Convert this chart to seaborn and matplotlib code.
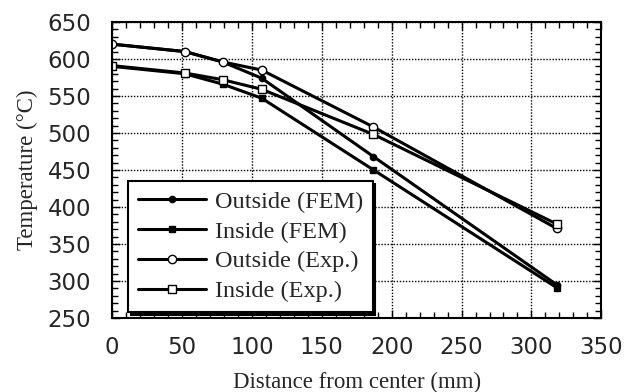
import matplotlib
matplotlib.use("Agg")
import matplotlib.pyplot as plt
from matplotlib.ticker import MultipleLocator
import numpy as np
import pandas as pd
import seaborn as sns

# Measurement positions (mm from center)
distance = [0, 52, 79, 107, 187, 318]

# Temperatures (deg C)
outside_fem = [620, 610, 596, 574, 468, 295]
inside_fem = [590, 580, 566, 547, 450, 291]
outside_exp = [620, 610, 596, 585, 508, 371]
inside_exp = [591, 581, 572, 559, 498, 377]

series_names = ["Outside (FEM)", "Inside (FEM)", "Outside (Exp.)", "Inside (Exp.)"]
series_values = [outside_fem, inside_fem, outside_exp, inside_exp]

x_ticks = [0, 50, 100, 150, 200, 250, 300, 350]
y_ticks = [250, 300, 350, 400, 450, 500, 550, 600, 650]

df = pd.DataFrame({
    "distance": np.tile(distance, len(series_names)),
    "temperature": np.concatenate(series_values),
    "series": np.repeat(series_names, len(distance)),
})

sns.set_theme(style="white")
plt.rcParams["font.family"] = ["DejaVu Sans"]

fig = plt.figure(figsize=(6.37, 3.92), dpi=100)
ax = fig.add_axes([0.176, 0.189, 0.768, 0.755])

styles = {
    "Outside (FEM)": dict(marker="o", markersize=4.5, markerfacecolor="black"),
    "Inside (FEM)": dict(marker="s", markersize=4.5, markerfacecolor="black"),
    "Outside (Exp.)": dict(marker="o", markersize=6, markerfacecolor="white"),
    "Inside (Exp.)": dict(marker="s", markersize=6, markerfacecolor="white"),
}

for name in series_names:
    sub = df[df["series"] == name]
    sns.lineplot(data=sub, x="distance", y="temperature", ax=ax, color="black",
                 linewidth=2.2, markeredgecolor="black", markeredgewidth=1.0,
                 label=name, **styles[name])

ax.set_xlim(0, 350)
ax.set_ylim(250, 650)
ax.set_xticks(x_ticks)
ax.set_yticks(y_ticks)
ax.xaxis.set_minor_locator(MultipleLocator(10))
ax.yaxis.set_minor_locator(MultipleLocator(10))
ax.tick_params(which="both", direction="in", top=True, right=True,
               bottom=True, left=True, color="black", width=1.0)
ax.tick_params(which="major", length=6)
ax.tick_params(which="minor", length=4.5)
ax.tick_params(axis="x", which="major", pad=13, labelsize=16.5)
ax.tick_params(axis="y", which="major", pad=15, labelsize=16.5)

ax.grid(True, which="major", color="black", linestyle=(0, (1, 1.2)), linewidth=1.0)
for sp in ax.spines.values():
    sp.set_color("black")
    sp.set_linewidth(1.5)

serif = ["Liberation Serif", "DejaVu Serif"]
ax.set_xlabel("Distance from center (mm)", family=serif, fontsize=16.5, labelpad=9)
ax.set_ylabel("Temperature (°C)", family=serif, fontsize=16.5, labelpad=7)

leg = ax.legend(loc="lower left", bbox_to_anchor=(0.033, 0.02), borderaxespad=0,
                prop={"family": serif, "size": 17.5}, frameon=True, fancybox=False,
                edgecolor="black", framealpha=1, handlelength=2.8, handletextpad=0.35,
                labelspacing=0.32, borderpad=0.4,
                shadow={"color": "black", "alpha": 1})
leg.get_frame().set_linewidth(1.5)

fig.savefig("out.png", dpi=100)
